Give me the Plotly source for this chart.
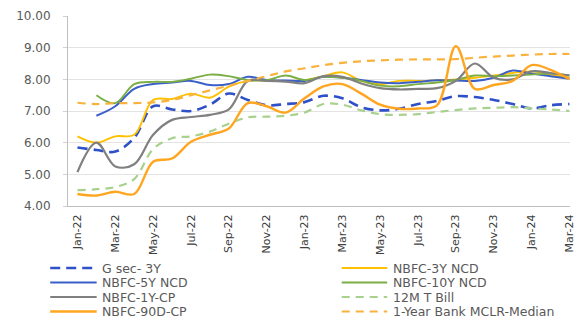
import plotly.graph_objects as go

# Monthly observation labels (Jan-22 .. Mar-24)
months = ["Jan-22", "Feb-22", "Mar-22", "Apr-22", "May-22", "Jun-22", "Jul-22",
          "Aug-22", "Sep-22", "Oct-22", "Nov-22", "Dec-22", "Jan-23", "Feb-23",
          "Mar-23", "Apr-23", "May-23", "Jun-23", "Jul-23", "Aug-23", "Sep-23",
          "Oct-23", "Nov-23", "Dec-23", "Jan-24", "Feb-24", "Mar-24"]
tick_labels = months[::2]
y_ticks = [4, 5, 6, 7, 8, 9, 10]

# Yields / rates (%)
gsec_3y = [5.85, 5.77, 5.72, 6.15, 7.15, 7.05, 7.00, 7.20, 7.55, 7.35, 7.18, 7.22,
           7.28, 7.48, 7.40, 7.12, 7.02, 7.07, 7.22, 7.32, 7.47, 7.44, 7.35, 7.22,
           7.08, 7.18, 7.22]
nbfc_3y_ncd = [6.20, 6.00, 6.20, 6.25, 7.35, 7.38, 7.55, 7.42, 7.77, 7.95, 7.97, 7.95,
               7.97, 8.10, 8.22, 7.95, 7.85, 7.95, 7.95, 7.97, 8.00, 8.05, 8.12, 8.20,
               8.25, 8.15, 8.05]
nbfc_5y_ncd = [None, 6.85, 7.15, 7.70, 7.85, 7.90, 7.95, 7.82, 7.85, 8.08, 7.98, 7.96,
               7.95, 8.08, 8.05, 7.98, 7.90, 7.88, 7.92, 7.97, 7.96, 7.95, 8.05, 8.28,
               8.18, 8.10, 8.02]
nbfc_10y_ncd = [None, 7.50, 7.25, 7.85, 7.92, 7.92, 8.02, 8.15, 8.10, 7.98, 7.97, 8.12,
                7.98, 8.08, 8.05, 7.95, 7.80, 7.78, 7.85, 7.90, 7.98, 8.12, 8.10, 8.12,
                8.15, 8.18, 8.13]
nbfc_1y_cp = [5.07, 6.00, 5.25, 5.32, 6.25, 6.72, 6.81, 6.88, 7.05, 7.95, 7.95, 7.93,
              7.88, 8.10, 8.08, 7.87, 7.72, 7.68, 7.70, 7.72, 7.95, 8.50, 8.05, 8.00,
              8.25, 8.20, 8.12]
tbill_12m = [4.50, 4.53, 4.60, 4.85, 5.80, 6.14, 6.20, 6.35, 6.60, 6.80, 6.82, 6.85,
             6.95, 7.22, 7.20, 7.02, 6.90, 6.88, 6.90, 6.97, 7.03, 7.08, 7.10, 7.12,
             7.08, 7.05, 7.00]
nbfc_90d_cp = [4.38, 4.33, 4.45, 4.38, 5.40, 5.50, 6.03, 6.25, 6.45, 7.25, 7.15, 6.95,
               7.40, 7.78, 7.85, 7.55, 7.20, 7.07, 7.08, 7.18, 9.05, 7.70, 7.82, 7.95,
               8.45, 8.30, 8.00]
mclr_1y = [7.26, 7.22, 7.25, 7.25, 7.27, 7.35, 7.50, 7.65, 7.80, 7.95, 8.10, 8.25,
           8.35, 8.45, 8.52, 8.57, 8.60, 8.62, 8.63, 8.63, 8.64, 8.68, 8.72, 8.75,
           8.78, 8.80, 8.80]

# name, values, colour, dash, width, legend column, legend row
series = [
    ("G sec- 3Y", gsec_3y, "#2E50C8", "10px,6px", 2.6, 0, 0),
    ("NBFC-3Y NCD", nbfc_3y_ncd, "#FFC000", "solid", 1.9, 1, 0),
    ("NBFC-5Y NCD", nbfc_5y_ncd, "#3A5FC8", "solid", 2.0, 0, 1),
    ("NBFC-10Y NCD", nbfc_10y_ncd, "#7BAE45", "solid", 1.9, 1, 1),
    ("NBFC-1Y-CP", nbfc_1y_cp, "#808080", "solid", 2.2, 0, 2),
    ("12M T Bill", tbill_12m, "#A9D18E", "8px,6px", 2.2, 1, 2),
    ("NBFC-90D-CP", nbfc_90d_cp, "#FFA51F", "solid", 2.4, 0, 3),
    ("1-Year Bank MCLR-Median", mclr_1y, "#F9B23C", "8px,6px", 2.2, 1, 3),
]

W, H = 576, 321
ML, MT, MR, MB = 68, 16, 0, 115
PW, PH = W - ML - MR, H - MT - MB

x_idx = list(range(len(months)))

fig = go.Figure()
for name, vals, color, dash, width, _, _ in series:
    fig.add_trace(go.Scatter(
        x=x_idx, y=vals, name=name, mode="lines",
        line=dict(color=color, width=width, dash=dash, shape="spline", smoothing=1),
        showlegend=False, hoverinfo="skip",
    ))


def px_x(p):
    return (p - ML) / PW


def px_y(p):
    return (MT + PH - p) / PH


# Two-column legend beneath the axis
col_sample = [(50, 97), (345, 391)]
col_text = [100, 395]
row_y = [268, 282.5, 297, 311.5]
shapes, annotations = [], []
for name, vals, color, dash, width, col, row in series:
    x0, x1 = col_sample[col]
    yy = px_y(row_y[row])
    shapes.append(dict(type="line", xref="paper", yref="paper",
                       x0=px_x(x0), x1=px_x(x1), y0=yy, y1=yy,
                       line=dict(color=color, width=width, dash=dash)))
    annotations.append(dict(xref="paper", yref="paper", x=px_x(col_text[col]), y=yy,
                            text=name, showarrow=False, xanchor="left", yanchor="middle",
                            font=dict(family="DejaVu Sans", size=12.5, color="#595959")))

x_range = [-0.5, 26.03]

fig.update_layout(
    width=W, height=H,
    margin=dict(l=ML, r=MR, t=MT, b=MB, pad=0),
    paper_bgcolor="white", plot_bgcolor="white",
    shapes=shapes, annotations=annotations,
    xaxis=dict(
        range=x_range, tickmode="array", tickvals=x_idx[::2], ticktext=tick_labels,
        tickangle=-90, ticks="", showgrid=False, zeroline=False,
        showline=True, linecolor="#BFBFBF", linewidth=1,
        tickfont=dict(family="DejaVu Sans", size=11, color="#404040"),
        ticklabelstandoff=3, ticklabeloverflow="allow",
    ),
    xaxis2=dict(
        overlaying="x", matches="x", range=x_range, side="bottom",
        tickmode="array", tickvals=[i - 0.5 for i in x_idx[::2]],
        ticks="outside", ticklen=4, tickcolor="#BFBFBF", showticklabels=False,
        showgrid=False, zeroline=False, showline=False,
    ),
    yaxis=dict(
        range=[4, 10], tickmode="array", tickvals=y_ticks,
        ticktext=[f"{v:.2f}" for v in y_ticks],
        showgrid=True, gridcolor="#E3E3E3", gridwidth=1, zeroline=False,
        showline=True, linecolor="#BFBFBF", linewidth=1,
        ticks="outside", ticklen=4, tickcolor="#D0D0D0",
        tickfont=dict(family="DejaVu Sans", size=12, color="#595959"),
        ticklabelstandoff=10,
    ),
)

fig.write_html("out.html")
